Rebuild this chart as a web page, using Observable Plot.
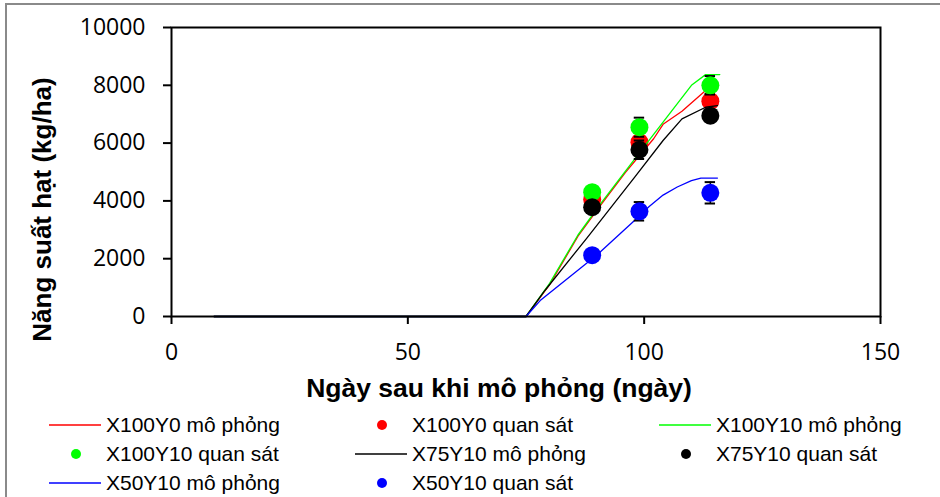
<!DOCTYPE html>
<html>
<head>
<meta charset="utf-8">
<script src="https://cdn.jsdelivr.net/npm/d3@7"></script>
<script src="https://cdn.jsdelivr.net/npm/@observablehq/plot@0.6"></script>
<style>
  body { margin: 0; background: #fff; }
  #wrap { position: relative; width: 940px; height: 497px; overflow: hidden; background: #fff; }
  #border { position: absolute; left: 5px; top: 3px; width: 1000px; height: 600px; border: 2px solid #8a8a8a; box-sizing: border-box; }
  #chart { position: absolute; left: 0; top: 0; }
  #legend { position: absolute; left: 0; top: 400px; width: 940px; height: 97px;
            font-family: "Liberation Sans", Arial, sans-serif; font-size: 21px; color: #000; }
  .item { position: absolute; height: 28px; display: flex; align-items: center; white-space: nowrap; }
  .item svg { flex: none; margin-right: 5px; }
</style>
</head>
<body>
<div id="wrap">
  <div id="border"></div>
  <div id="chart"></div>
  <div id="legend"></div>
</div>
<script>
// ---------- data ----------
const seriesNames = ["X100Y0", "X100Y10", "X75Y10", "X50Y10"];
const seriesColors = ["#ff0000", "#00ff00", "#000000", "#0000ff"];

// simulated (mô phỏng)
const simDays_X100Y0  = [9, 75, 80, 86, 91, 96, 102, 104, 108, 113, 115.5];
const simYield_X100Y0 = [0, 0, 1100, 2780, 3900, 4980, 6150, 6650, 7100, 7820, 7880];
const simDays_X100Y10  = [9, 75, 80, 86, 91, 96, 102, 110, 113, 116];
const simYield_X100Y10 = [0, 0, 1150, 2820, 3950, 5020, 6300, 8000, 8370, 8370];
const simDays_X75Y10  = [9, 75, 79, 88, 98, 104, 108, 113, 115.5];
const simYield_X75Y10 = [0, 0, 900, 2740, 4820, 6090, 6840, 7240, 7300];
const simDays_X50Y10  = [9, 75, 78, 90, 99, 101, 104, 107, 110, 112, 115.5];
const simYield_X50Y10 = [0, 0, 550, 2130, 3480, 3800, 4200, 4480, 4700, 4790, 4790];

// observed (quan sát)
const obsDays = [89, 99, 114];
const obs_X100Y0  = [4050, 6030, 7450];
const obs_X100Y10 = [4300, 6550, 8000];
const obs_X75Y10  = [3780, 5770, 6950];
const obs_X50Y10  = [2120, 3640, 4280];
const err_X100Y0  = [120, 320, 250];
const err_X100Y10 = [120, 330, 320];
const err_X75Y10  = [120, 320, 200];
const err_X50Y10  = [100, 320, 370];

const xTicks = [0, 50, 100, 150];
const yTicks = [0, 2000, 4000, 6000, 8000, 10000];
const xTitle = "Ngày sau khi mô phỏng (ngày)";
const yTitle = "Năng suất hạt (kg/ha)";
const legendLabels = [
  "X100Y0 mô phỏng", "X100Y0 quan sát", "X100Y10 mô phỏng",
  "X100Y10 quan sát", "X75Y10 mô phỏng", "X75Y10 quan sát",
  "X50Y10 mô phỏng", "X50Y10 quan sát"
];

// ---------- build tables ----------
const simDays = [simDays_X100Y0, simDays_X100Y10, simDays_X75Y10, simDays_X50Y10];
const simYields = [simYield_X100Y0, simYield_X100Y10, simYield_X75Y10, simYield_X50Y10];
const obsVals = [obs_X100Y0, obs_X100Y10, obs_X75Y10, obs_X50Y10];
const obsErrs = [err_X100Y0, err_X100Y10, err_X75Y10, err_X50Y10];

const capHalf = 1.1; // half width of error-bar caps, in days
const marks = [];
seriesNames.forEach((name, s) => {
  const sim = simDays[s].map((d, i) => ({day: d, value: simYields[s][i]}));
  const obs = obsDays.map((d, i) => ({day: d, value: obsVals[s][i], err: obsErrs[s][i]}));
  marks.push(Plot.line(sim, {x: "day", y: "value", stroke: seriesColors[s], strokeWidth: 1.3}));
  marks.push(Plot.ruleX(obs, {x: "day", y1: d => d.value - d.err, y2: d => d.value + d.err, stroke: "black", strokeWidth: 1.5}));
  marks.push(Plot.ruleY(obs, {y: d => d.value + d.err, x1: d => d.day - capHalf, x2: d => d.day + capHalf, stroke: "black", strokeWidth: 2}));
  marks.push(Plot.ruleY(obs, {y: d => d.value - d.err, x1: d => d.day - capHalf, x2: d => d.day + capHalf, stroke: "black", strokeWidth: 2}));
  marks.push(Plot.dot(obs, {x: "day", y: "value", r: 9, fill: seriesColors[s], stroke: "none"}));
});

const chart = Plot.plot({
  width: 940,
  height: 420,
  marginLeft: 171,
  marginRight: 60,
  marginTop: 27,
  marginBottom: 104,
  style: {fontFamily: "'Open Sans', Lato, sans-serif", fontSize: "23px", background: "transparent", color: "#000"},
  x: {domain: [0, 150]},
  y: {domain: [0, 10000]},
  marks: [
    ...marks,
    Plot.frame({stroke: "black", strokeWidth: 2}),
    Plot.axisY({ticks: yTicks, tickFormat: d => String(d), tickSize: 8, tickPadding: 18, strokeWidth: 2, label: null, fontSize: 23}),
    Plot.axisX({ticks: xTicks, tickFormat: d => String(d), tickSize: 8, tickPadding: 19, strokeWidth: 2, label: null, fontSize: 23}),
    Plot.text([xTitle], {text: d => d, frameAnchor: "bottom", textAnchor: "middle", lineAnchor: "middle", dx: -27, dy: 72, fontSize: 26.5, fontWeight: "bold", fontFamily: "'Liberation Sans', Arial, sans-serif", fill: "black"}),
    Plot.text([yTitle], {text: d => d, frameAnchor: "left", textAnchor: "middle", lineAnchor: "middle", rotate: -90, dx: -129, dy: 37.5, fontSize: 26, fontWeight: "bold", fontFamily: "'Liberation Sans', Arial, sans-serif", fill: "black"})
  ]
});
document.getElementById("chart").appendChild(chart);

// ---------- legend ----------
const legendCols = [49, 355, 659];
const legendRows = [11, 40, 69];
const legend = document.getElementById("legend");
legendLabels.forEach((label, k) => {
  const s = Math.floor(k / 2);
  const isLine = k % 2 === 0;
  const div = document.createElement("div");
  div.className = "item";
  div.style.left = legendCols[k % 3] + "px";
  div.style.top = legendRows[Math.floor(k / 3)] + "px";
  const sw = isLine
    ? `<svg width="52" height="12"><line x1="0" x2="52" y1="6" y2="6" stroke="${seriesColors[s]}" stroke-width="1.3"/></svg>`
    : `<svg width="52" height="12"><circle cx="27" cy="6" r="5" fill="${seriesColors[s]}"/></svg>`;
  div.innerHTML = sw + `<span>${label}</span>`;
  legend.appendChild(div);
});
</script>
</body>
</html>
